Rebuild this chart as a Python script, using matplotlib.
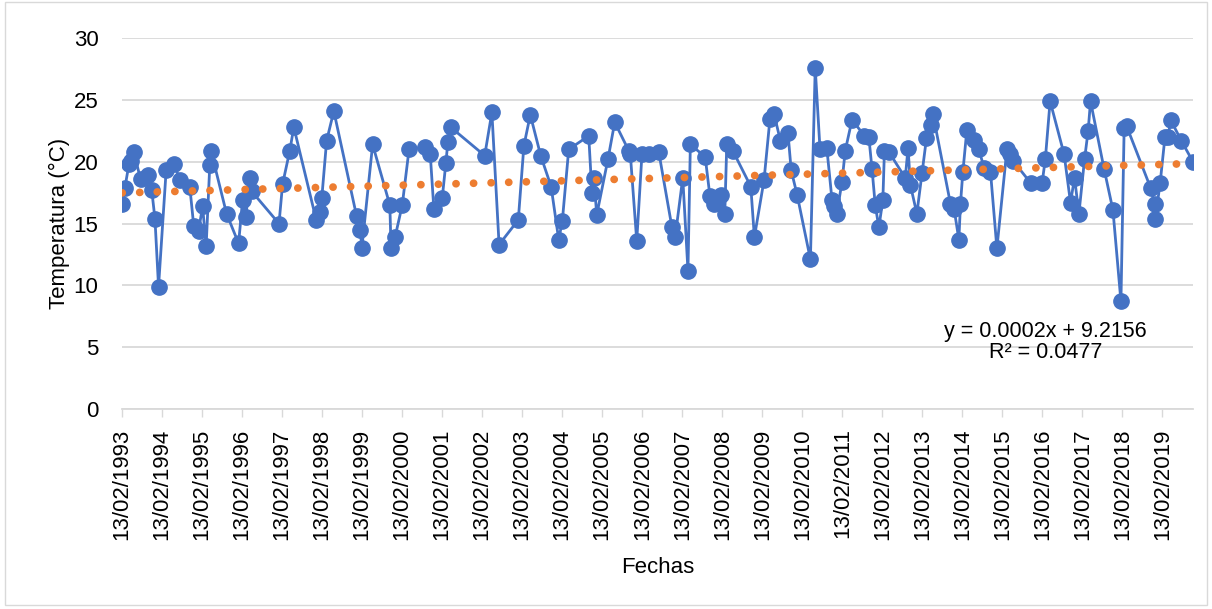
import numpy as np
import matplotlib.pyplot as plt
from matplotlib.patches import Rectangle

plt.rcParams['font.family'] = ['Liberation Sans', 'DejaVu Sans']

# fechas en años decimales (13/02/1993 = 1993.12)
fechas = [1993.12, 1993.19, 1993.29, 1993.34, 1993.41, 1993.58, 1993.77, 1993.86, 1993.94, 1994.03,
          1994.22, 1994.42, 1994.57, 1994.81, 1994.91, 1995.03, 1995.13, 1995.22, 1995.31, 1995.34,
          1995.73, 1996.03, 1996.13, 1996.21, 1996.31, 1996.36, 1997.04, 1997.13, 1997.31, 1997.41,
          1997.97, 1998.07, 1998.11, 1998.23, 1998.41, 1998.98, 1999.07, 1999.11, 1999.38, 1999.81,
          1999.84, 1999.94, 2000.12, 2000.29, 2000.68, 2000.82, 2000.91, 2001.12, 2001.21, 2001.26,
          2001.33, 2002.18, 2002.36, 2002.54, 2003.02, 2003.16, 2003.32, 2003.58, 2003.84, 2004.03,
          2004.12, 2004.28, 2004.78, 2004.86, 2004.91, 2004.98, 2005.26, 2005.43, 2005.78, 2005.82,
          2005.98, 2006.11, 2006.28, 2006.53, 2006.86, 2006.94, 2007.13, 2007.26, 2007.32, 2007.69,
          2007.81, 2007.92, 2008.08, 2008.18, 2008.23, 2008.38, 2008.83, 2008.92, 2009.16, 2009.31,
          2009.41, 2009.57, 2009.76, 2009.84, 2009.99, 2010.32, 2010.44, 2010.56, 2010.73, 2010.86,
          2010.91, 2010.98, 2011.11, 2011.19, 2011.36, 2011.67, 2011.78, 2011.86, 2011.94, 2012.03,
          2012.13, 2012.17, 2012.28, 2012.69, 2012.76, 2012.82, 2012.98, 2013.11, 2013.22, 2013.33,
          2013.38, 2013.82, 2013.91, 2014.03, 2014.07, 2014.13, 2014.23, 2014.41, 2014.53, 2014.66,
          2014.82, 2014.98, 2015.23, 2015.32, 2015.38, 2015.82, 2016.11, 2016.19, 2016.31, 2016.66,
          2016.82, 2016.92, 2017.03, 2017.17, 2017.26, 2017.32, 2017.66, 2017.88, 2018.08, 2018.16,
          2018.22, 2018.82, 2018.92, 2018.94, 2019.06, 2019.18, 2019.26, 2019.32, 2019.59, 2019.88]

temperatura = [16.6, 17.9, 19.8, 20.1, 20.8, 18.6, 18.9, 17.7, 15.4, 9.9,
               19.3, 19.8, 18.5, 18.0, 14.8, 14.4, 16.4, 13.2, 19.7, 20.9,
               15.8, 13.4, 16.9, 15.5, 18.7, 17.6, 15.0, 18.2, 20.9, 22.8,
               15.3, 15.9, 17.1, 21.7, 24.1, 15.6, 14.5, 13.0, 21.4, 16.5,
               13.0, 13.9, 16.5, 21.0, 21.2, 20.6, 16.2, 17.1, 19.9, 21.6,
               22.8, 20.5, 24.0, 13.3, 15.3, 21.3, 23.8, 20.5, 18.0, 13.7,
               15.2, 21.0, 22.1, 17.5, 18.7, 15.7, 20.2, 23.2, 20.9, 20.6,
               13.6, 20.6, 20.6, 20.8, 14.7, 13.9, 18.7, 11.2, 21.4, 20.4,
               17.2, 16.6, 17.3, 15.8, 21.4, 20.9, 18.0, 13.9, 18.5, 23.5,
               23.9, 21.7, 22.3, 19.3, 17.3, 12.1, 27.6, 21.0, 21.1, 16.9,
               16.4, 15.8, 18.4, 20.9, 23.4, 22.1, 22.0, 19.4, 16.5, 14.7,
               16.9, 20.9, 20.8, 18.7, 21.1, 18.1, 15.8, 19.1, 21.9, 23.0,
               23.9, 16.6, 16.2, 13.7, 16.6, 19.2, 22.6, 21.8, 21.0, 19.5,
               19.2, 13.0, 21.0, 20.6, 20.1, 18.3, 18.3, 20.2, 24.9, 20.6,
               16.7, 18.7, 15.8, 20.2, 22.5, 24.9, 19.4, 16.1, 8.7, 22.7,
               22.9, 17.9, 16.6, 15.4, 18.3, 22.0, 22.0, 23.4, 21.7, 20.0]

anios = list(range(1993, 2020))
etiquetas = ['13/02/%d' % a for a in anios]

fig = plt.figure(figsize=(12.12, 6.09), dpi=100)
fig.patches.append(Rectangle((0.004, 0.006), 0.992, 0.99, transform=fig.transFigure,
                             fill=False, edgecolor='#d9d9d9', linewidth=1))
ax = fig.add_axes([0.1007, 0.3284, 0.8836, 0.6089])

x = np.array(fechas)
y = np.array(temperatura)
ax.plot(x, y, color='#4472C4', linewidth=2, marker='o', markersize=11, zorder=3)

# linea de tendencia lineal
m, b = np.polyfit(x, y, 1)
xt = np.array([x[0], x[-1]])
ax.plot(xt, m * xt + b, color='#ED7D31', linewidth=5.6, linestyle=(0, (0.01, 2.25)),
        dash_capstyle='round', zorder=4)
ax.text(2016.2, 5.4, 'y = 0.0002x + 9.2156\nR² = 0.0477', ha='center', va='center',
        fontsize=15.5, color='black', linespacing=1.0)

ax.set_xlim(x[0], x[-1])
ax.set_ylim(0, 30)
ax.set_yticks(range(0, 31, 5))
ax.set_xticks([a + 0.118 for a in anios])
ax.set_xticklabels(etiquetas, rotation=90)
ax.tick_params(axis='y', length=0, pad=17, labelsize=16)
ax.tick_params(axis='x', length=6, width=1, color='#d9d9d9', pad=8, labelsize=16)
ax.grid(axis='y', color='#d9d9d9', linewidth=1.3)
ax.set_axisbelow(True)
for s in ['top', 'right', 'left']:
    ax.spines[s].set_visible(False)
ax.spines['bottom'].set_color('#d9d9d9')
ax.spines['bottom'].set_linewidth(1.3)

ax.set_ylabel('Temperatura (°C)', fontsize=16)
ax.yaxis.set_label_coords(-0.049, 0.5)
fig.text(0.5425, 0.068, 'Fechas', ha='center', va='center', fontsize=16)

fig.savefig('out.png', dpi=100)
